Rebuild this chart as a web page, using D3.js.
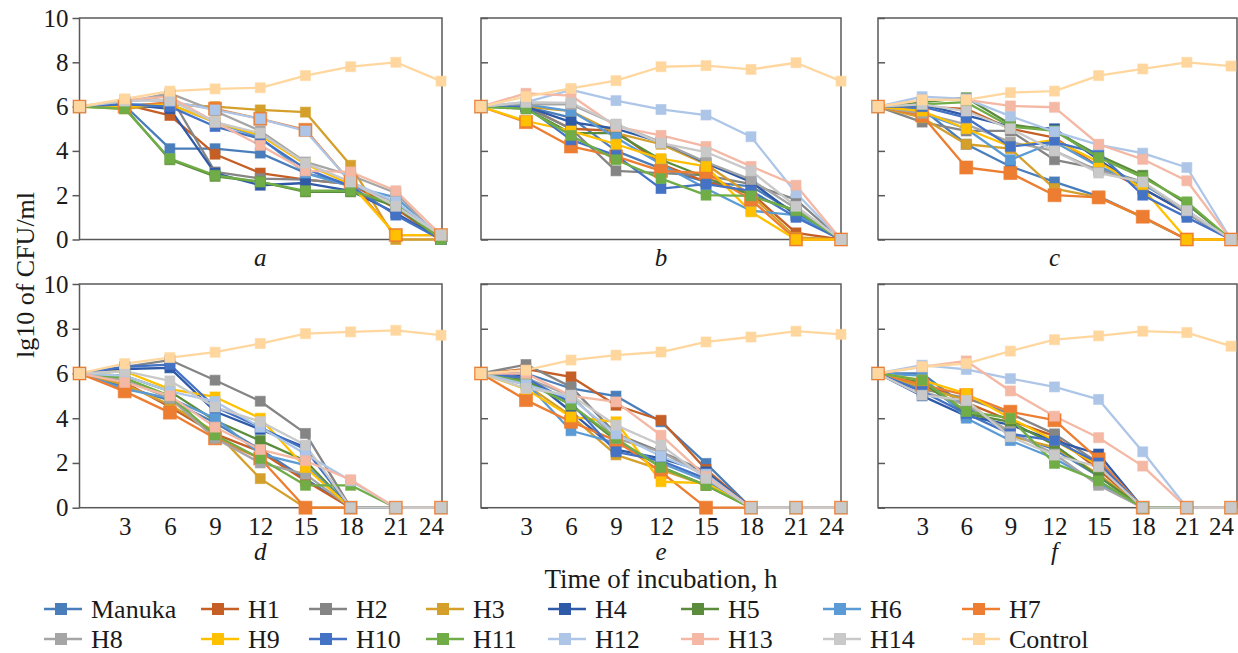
<!DOCTYPE html>
<html>
<head>
<meta charset="utf-8">
<script src="https://cdn.jsdelivr.net/npm/d3@7"></script>
<style>
  body { margin: 0; background: #fff; }
  text { font-family: "Liberation Serif", "DejaVu Serif", serif; fill: #1a1a1a; }
</style>
</head>
<body>
<div id="chart"></div>
<script>
// data
const times = [0, 3, 6, 9, 12, 15, 18, 21, 24];
const xTickLabels = [3, 6, 9, 12, 15, 18, 21, 24];
const yTicks = [0, 2, 4, 6, 8, 10];
const seriesNames = ["Manuka", "H1", "H2", "H3", "H4", "H5", "H6", "H7",
                     "H8", "H9", "H10", "H11", "H12", "H13", "H14", "Control"];
const panelLabels = ["a", "b", "c", "d", "e", "f"];

// rows follow seriesNames order
const panelA = [
  [6.0, 6.05, 4.1, 4.1, 3.9, 3.0, 2.5, 1.5, 0],
  [6.0, 6.1, 5.6, 3.85, 3.0, 2.7, 2.5, 1.4, 0],
  [6.0, 6.2, 6.5, 3.05, 2.75, 2.7, 2.5, 1.7, 0],
  [6.0, 5.9, 6.1, 6.0, 5.85, 5.75, 3.35, 0, 0],
  [6.0, 6.1, 5.9, 3.0, 2.45, 2.55, 2.2, 1.2, 0],
  [6.0, 5.95, 3.6, 2.85, 2.6, 2.15, 2.15, 1.5, 0],
  [6.0, 6.1, 6.1, 5.3, 4.6, 3.0, 2.4, 1.9, 0.1],
  [6.0, 6.0, 6.2, 5.9, 5.45, 4.95, 2.6, 0.2, 0.2],
  [6.0, 6.2, 6.6, 5.8, 4.9, 3.5, 2.9, 2.1, 0],
  [6.0, 6.0, 6.1, 5.3, 4.7, 3.4, 2.5, 0.2, 0.2],
  [6.0, 6.1, 6.0, 5.1, 4.55, 3.2, 2.4, 1.1, 0],
  [6.0, 5.9, 3.65, 2.9, 2.6, 2.2, 2.2, 1.6, 0],
  [6.0, 6.3, 6.25, 5.85, 5.45, 4.9, 2.6, 1.7, 0.2],
  [6.0, 6.3, 6.45, 5.3, 4.25, 3.1, 3.05, 2.2, 0.2],
  [6.0, 6.25, 6.3, 5.3, 4.8, 3.45, 2.6, 1.5, 0.2],
  [6.0, 6.35, 6.7, 6.8, 6.85, 7.4, 7.8, 8.0, 7.15]
];
const panelB = [
  [6.0, 6.0, 5.5, 4.0, 3.2, 2.6, 2.4, 1.2, 0],
  [6.0, 6.0, 5.0, 4.9, 3.4, 2.6, 2.1, 0.3, 0],
  [6.0, 6.0, 5.0, 3.1, 3.0, 2.9, 2.5, 1.8, 0],
  [6.0, 6.0, 5.8, 4.8, 4.3, 3.4, 2.0, 0.1, 0],
  [6.0, 6.0, 5.3, 5.0, 4.4, 3.45, 2.6, 1.1, 0],
  [6.0, 5.9, 4.8, 4.8, 3.6, 2.8, 2.0, 1.3, 0],
  [6.0, 6.1, 5.8, 4.6, 3.4, 2.3, 1.3, 1.1, 0],
  [6.0, 5.3, 4.2, 3.75, 3.1, 3.0, 1.8, 0, 0],
  [6.0, 6.1, 6.1, 5.2, 4.4, 3.5, 2.7, 1.4, 0],
  [6.0, 5.35, 4.9, 4.3, 3.65, 3.3, 1.25, 0, 0],
  [6.0, 6.0, 4.5, 3.8, 2.3, 2.5, 2.2, 1.0, 0],
  [6.0, 5.9, 4.7, 3.6, 2.75, 2.0, 1.97, 1.3, 0],
  [6.0, 6.2, 6.75, 6.27, 5.87, 5.62, 4.64, 2.1, 0],
  [6.0, 6.6, 6.5, 5.1, 4.7, 4.2, 3.3, 2.45, 0],
  [6.0, 6.2, 6.17, 5.2, 4.35, 3.95, 3.1, 1.5, 0],
  [6.0, 6.45, 6.82, 7.17, 7.8, 7.85, 7.68, 7.98, 7.15]
];
const panelC = [
  [6.0, 5.9, 4.3, 3.3, 2.6, 1.95, 1.0, 0, 0],
  [6.0, 6.0, 5.9, 5.0, 4.6, 3.3, 2.3, 1.2, 0],
  [6.0, 5.3, 4.9, 4.9, 3.6, 3.2, 2.6, 1.2, 0],
  [6.0, 5.5, 4.3, 4.1, 2.3, 1.9, 1.0, 0, 0],
  [6.0, 6.1, 5.6, 5.1, 5.0, 3.6, 2.3, 1.2, 0],
  [6.0, 6.2, 6.4, 5.2, 4.9, 3.8, 2.9, 1.6, 0],
  [6.0, 5.7, 5.0, 3.6, 4.4, 3.3, 2.5, 1.3, 0],
  [6.0, 5.6, 3.25, 3.0, 2.0, 1.9, 1.03, 0, 0],
  [6.0, 5.7, 5.2, 4.4, 4.0, 3.1, 2.6, 1.2, 0],
  [6.0, 5.8, 5.0, 4.2, 4.5, 3.5, 2.3, 0, 0],
  [6.0, 6.0, 5.5, 4.2, 4.4, 3.9, 2.0, 1.0, 0],
  [6.0, 6.1, 6.2, 5.1, 4.9, 3.7, 2.8, 1.7, 0],
  [6.0, 6.45, 6.35, 5.57, 4.87, 4.27, 3.9, 3.25, 0],
  [6.0, 6.3, 6.3, 6.03, 5.97, 4.3, 3.62, 2.65, 0],
  [6.0, 6.1, 5.8, 5.0, 4.0, 3.0, 2.6, 1.3, 0],
  [6.0, 6.3, 6.3, 6.63, 6.7, 7.4, 7.7, 8.0, 7.83]
];
const panelD = [
  [6.0, 5.4, 4.8, 3.8, 2.6, 1.3, 0, 0, 0],
  [6.0, 5.6, 4.5, 3.3, 2.5, 1.2, 0, 0, 0],
  [6.0, 6.3, 6.6, 5.7, 4.76, 3.32, 0, 0, 0],
  [6.0, 5.5, 4.6, 3.4, 1.3, 0, 0, 0, 0],
  [6.0, 6.2, 6.25, 4.3, 3.5, 2.7, 0, 0, 0],
  [6.0, 5.9, 5.2, 3.9, 3.0, 2.1, 0, 0, 0],
  [6.0, 5.3, 4.9, 4.0, 2.4, 1.9, 0, 0, 0],
  [6.0, 5.2, 4.25, 3.1, 2.2, 0, 0, 0, 0],
  [6.0, 5.7, 4.9, 3.1, 2.0, 1.5, 0, 0, 0],
  [6.0, 6.1, 5.3, 4.95, 4.0, 1.8, 0, 0, 0],
  [6.0, 6.3, 6.4, 4.5, 3.6, 2.6, 0, 0, 0],
  [6.0, 5.8, 5.0, 3.25, 2.2, 1.0, 1.0, 0, 0],
  [6.0, 5.9, 5.2, 4.75, 3.6, 2.4, 1.2, 0, 0],
  [6.0, 5.6, 5.0, 3.6, 2.6, 2.1, 1.25, 0, 0],
  [6.0, 6.1, 5.67, 4.5, 3.85, 2.8, 0, 0, 0],
  [6.0, 6.44, 6.71, 6.95, 7.34, 7.78, 7.86, 7.93, 7.71]
];
const panelE = [
  [6.0, 6.0, 5.33, 4.99, 3.84, 1.98, 0, 0, 0],
  [6.0, 6.2, 5.85, 4.58, 3.91, 1.71, 0, 0, 0],
  [6.0, 6.4, 5.4, 3.3, 2.5, 1.6, 0, 0, 0],
  [6.0, 5.5, 4.1, 2.36, 1.7, 1.0, 0, 0, 0],
  [6.0, 5.9, 4.3, 2.6, 2.2, 1.6, 0, 0, 0],
  [6.0, 5.7, 4.6, 3.0, 1.83, 1.0, 0, 0, 0],
  [6.0, 5.6, 3.44, 2.9, 2.0, 1.2, 0, 0, 0],
  [6.0, 4.81, 3.84, 3.0, 1.6, 0, 0, 0, 0],
  [6.0, 5.8, 5.0, 3.1, 2.5, 1.4, 0, 0, 0],
  [6.0, 5.3, 4.06, 3.84, 1.16, 1.1, 0, 0, 0],
  [6.0, 5.8, 4.7, 2.5, 2.1, 1.3, 0, 0, 0],
  [6.0, 5.6, 4.6, 3.1, 1.8, 1.0, 0, 0, 0],
  [6.0, 5.5, 4.9, 3.3, 2.3, 1.5, 0, 0, 0],
  [6.0, 6.0, 5.0, 4.73, 3.24, 1.4, 0, 0, 0],
  [6.0, 5.33, 5.03, 3.69, 2.8, 1.31, 0, 0, 0],
  [6.0, 6.15, 6.6, 6.82, 6.96, 7.41, 7.63, 7.89, 7.75]
];
const panelF = [
  [6.0, 6.0, 4.5, 3.3, 2.6, 1.4, 0, 0, 0],
  [6.0, 5.6, 4.7, 3.9, 3.2, 1.7, 0, 0, 0],
  [6.0, 5.3, 4.9, 4.2, 3.3, 2.0, 0, 0, 0],
  [6.0, 5.4, 4.8, 3.2, 2.7, 1.5, 0, 0, 0],
  [6.0, 5.0, 4.1, 3.7, 3.0, 2.4, 0, 0, 0],
  [6.0, 5.6, 4.2, 3.84, 2.8, 1.4, 0, 0, 0],
  [6.0, 5.9, 4.0, 3.0, 2.2, 1.1, 0, 0, 0],
  [6.0, 5.5, 5.03, 4.29, 3.91, 2.16, 0, 0, 0],
  [6.0, 5.2, 4.6, 3.4, 2.4, 1.0, 0, 0, 0],
  [6.0, 5.7, 5.1, 4.0, 3.0, 1.9, 0, 0, 0],
  [6.0, 5.2, 4.2, 3.3, 3.0, 2.0, 0, 0, 0],
  [6.0, 5.7, 4.3, 4.0, 1.98, 1.2, 0, 0, 0],
  [6.0, 6.37, 6.18, 5.77, 5.4, 4.84, 2.5, 0, 0],
  [6.0, 6.3, 6.56, 5.22, 4.09, 3.13, 1.86, 0, 0],
  [6.0, 5.03, 4.8, 3.17, 2.35, 1.83, 0, 0, 0],
  [6.0, 6.3, 6.44, 7.0, 7.51, 7.68, 7.89, 7.83, 7.22]
];
const panels = [panelA, panelB, panelC, panelD, panelE, panelF];

const colors = ["#4a7ebb", "#c55f25", "#858585", "#d4a02b", "#2e5aa7", "#5b8c3b",
                "#5b9bd5", "#ed7d31", "#a5a5a5", "#ffc000", "#4472c4", "#70ad47",
                "#adc6e8", "#f4b8a4", "#c9c9c9", "#ffd79e"];

// layout
const W = 1238, H = 653;
const cols = [[79.5, 441], [481, 841], [878, 1231]];
const frameRight = [442, 841, 1237];
const rows = [[18, 239.5], [284, 507.7]];

const svg = d3.select("#chart").append("svg")
  .attr("width", W).attr("height", H);

panels.forEach(function(data, p) {
  const c = p % 3, r = Math.floor(p / 3);
  const x = d3.scaleLinear().domain([0, 24]).range(cols[c]);
  const y = d3.scaleLinear().domain([0, 10]).range([rows[r][1], rows[r][0]]);
  const g = svg.append("g");

  // frame
  g.append("rect")
    .attr("x", cols[c][0]).attr("y", rows[r][0])
    .attr("width", frameRight[c] - cols[c][0]).attr("height", rows[r][1] - rows[r][0])
    .attr("fill", "none").attr("stroke", "#595959").attr("stroke-width", 1.5);

  // y ticks
  const yAxis = d3.axisLeft(y).tickValues(yTicks).tickSize(c === 0 ? 7 : -7)
    .tickFormat(c === 0 ? d3.format("d") : "");
  const ya = g.append("g").attr("transform", "translate(" + cols[c][0] + ",0)").call(yAxis);
  ya.select(".domain").remove();
  ya.selectAll("line").attr("stroke", "#595959").attr("stroke-width", 1.5);
  ya.selectAll("text").attr("font-size", 25).attr("fill", "#1a1a1a")
    .attr("font-family", "Liberation Serif").attr("dx", -1);

  // x tick labels on bottom row
  if (r === 1) {
    const xAxis = d3.axisBottom(x).tickValues(xTickLabels).tickSize(0).tickPadding(10);
    const xa = g.append("g").attr("transform", "translate(0," + rows[r][1] + ")").call(xAxis);
    xa.select(".domain").remove();
    xa.selectAll("text").attr("font-size", 25).attr("fill", "#1a1a1a")
      .attr("font-family", "Liberation Serif")
      .attr("dx", function(d) { return d === 24 ? -10 : 0; });
  }

  // panel letter
  g.append("text")
    .attr("x", (cols[c][0] + cols[c][1]) / 2)
    .attr("y", r === 0 ? 266 : 560)
    .attr("text-anchor", "middle")
    .attr("font-size", 25).attr("font-style", "italic")
    .text(panelLabels[p]);

  const line = d3.line().x(function(d, i) { return x(times[i]); }).y(function(d) { return y(d); });

  // lines then markers
  data.forEach(function(s, k) {
    g.append("path").datum(s)
      .attr("d", line)
      .attr("fill", "none")
      .attr("stroke", colors[k])
      .attr("stroke-width", 2.3)
      .attr("stroke-linejoin", "round");
  });
  data.forEach(function(s, k) {
    const sz = k === 7 ? 13 : 10;
    g.selectAll(".m" + k).data(s).enter().append("rect")
      .attr("x", function(d, i) { return x(times[i]) - sz / 2; })
      .attr("y", function(d) { return y(d) - sz / 2; })
      .attr("width", sz).attr("height", sz)
      .attr("fill", colors[k])
      .attr("stroke", colors[k]).attr("stroke-opacity", 0.6).attr("stroke-width", 1);
  });
});

// axis titles
svg.append("text")
  .attr("x", 661).attr("y", 588)
  .attr("text-anchor", "middle").attr("font-size", 27)
  .text("Time of incubation, h");

svg.append("text")
  .attr("transform", "translate(34,275) rotate(-90)")
  .attr("text-anchor", "middle").attr("font-size", 26)
  .text("lg10 of CFU/ml");

// legend
const legX = [61, 218, 326, 443, 565, 698, 840, 979];
const legY = [609, 639];
const legend = svg.append("g");
seriesNames.forEach(function(name, k) {
  const lx = legX[k % 8], ly = legY[Math.floor(k / 8)];
  const item = legend.append("g").attr("transform", "translate(" + lx + "," + ly + ")");
  item.append("line").attr("x1", -17).attr("x2", 21).attr("y1", 0).attr("y2", 0)
    .attr("stroke", colors[k]).attr("stroke-width", 2.5);
  item.append("rect").attr("x", -6).attr("y", -6).attr("width", 12).attr("height", 12)
    .attr("fill", colors[k]);
  item.append("text").attr("x", 30).attr("y", 9)
    .attr("font-size", 26).text(name);
});
</script>
</body>
</html>
